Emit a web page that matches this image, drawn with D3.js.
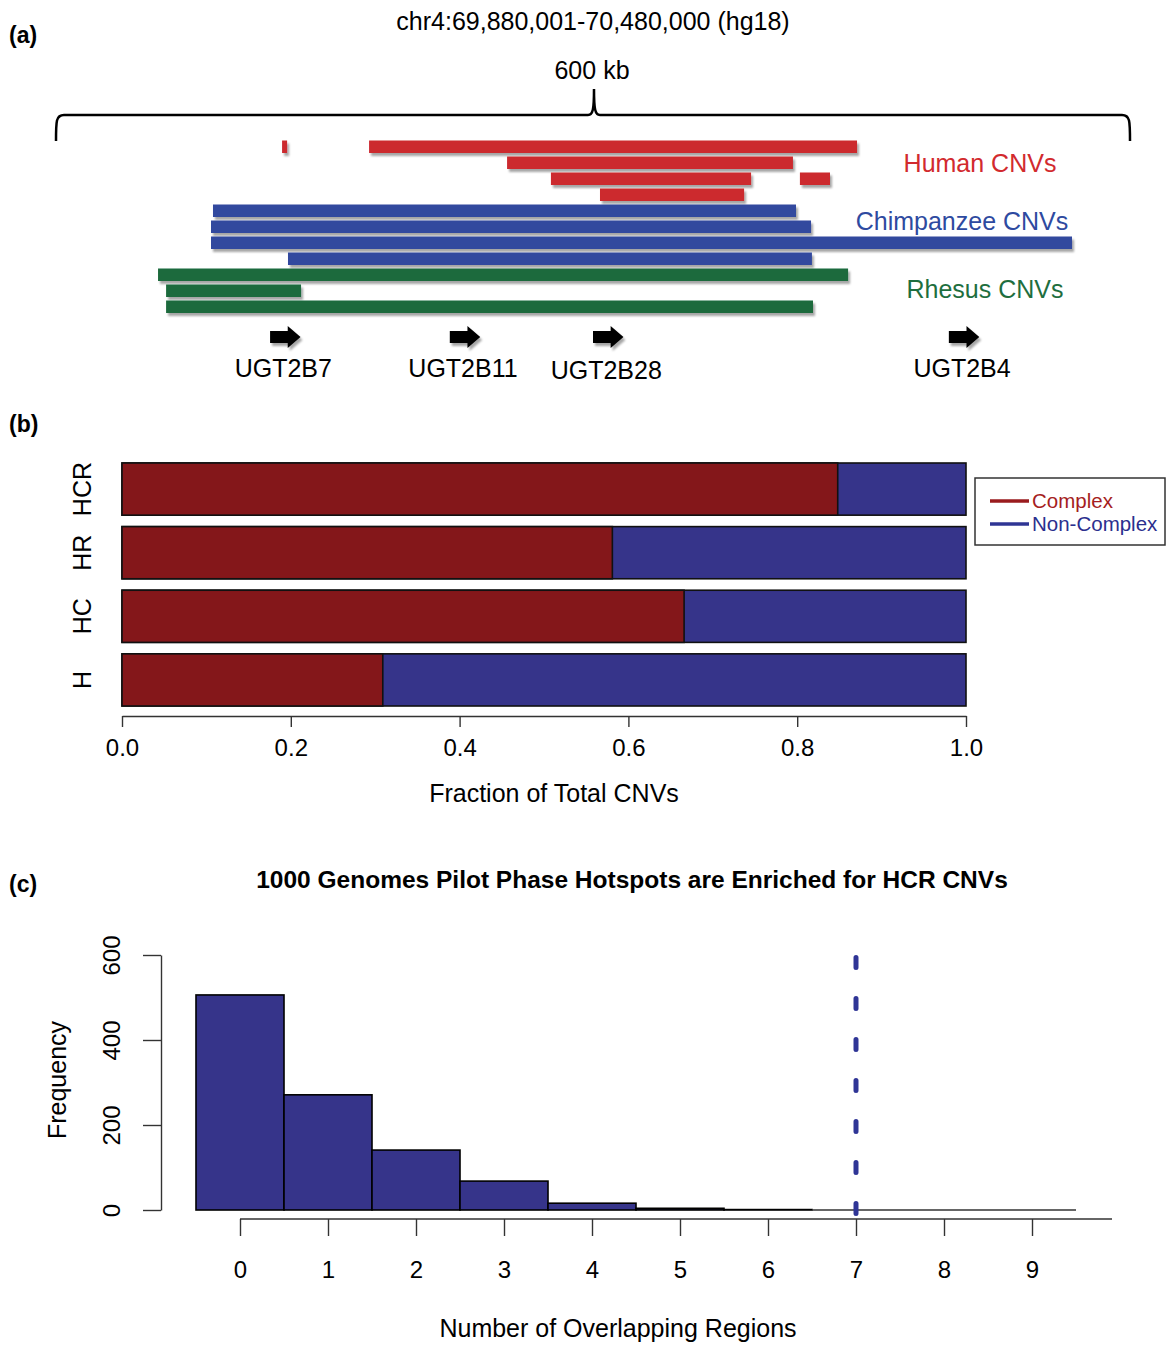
<!DOCTYPE html>
<html>
<head>
<meta charset="utf-8">
<script src="https://cdn.jsdelivr.net/npm/d3@7"></script>
<style>
  html, body { margin: 0; padding: 0; background: #fff; }
  svg { display: block; font-family: "Liberation Sans", Arial, sans-serif; }
</style>
</head>
<body>
<svg id="chart" width="1167" height="1345"></svg>
<script>
// ---------------- DATA ----------------
// Panel (a): region chr4:69,880,001-70,480,000 (hg18), positions in kb from region start
const regionLabel = "chr4:69,880,001-70,480,000 (hg18)";
const regionSpanKb = 600;
// each CNV: [start kb, end kb, lane]
const humanCNVs = [[126.3, 129.1, 0], [174.9, 447.5, 0], [252.0, 411.7, 1], [276.5, 388.3, 2], [415.6, 432.4, 2], [303.9, 384.4, 3]];
const chimpCNVs = [[87.7, 413.4, 4], [86.6, 421.8, 5], [86.6, 567.6, 6], [129.6, 422.3, 7]];
const rhesusCNVs = [[57.0, 442.5, 8], [61.5, 136.9, 9], [61.5, 422.9, 10]];
const geneNames = ["UGT2B7", "UGT2B11", "UGT2B28", "UGT2B4"];
const geneStartKb = [119.6, 220.0, 300.0, 498.8];
const geneLenKb = 17;

// Panel (b)
const groups = ["HCR", "HR", "HC", "H"];
const complexFrac = [0.848, 0.581, 0.666, 0.309];
const fracTicks = [0, 0.2, 0.4, 0.6, 0.8, 1.0];

// Panel (c)
const overlapBins = [0, 1, 2, 3, 4, 5, 6, 7, 8, 9];
const binCounts = [506, 271, 141, 68, 16, 4, 1, 0, 0, 0];
const freqTicks = [0, 200, 400, 600];
const observedOverlap = 7;

// ---------------- DRAW ----------------
const FS = 25;
const svg = d3.select("#chart");
const defs = svg.append("defs");
const sh = defs.append("filter").attr("id", "shadow").attr("x", "-5%").attr("y", "-50%").attr("width", "110%").attr("height", "250%");
sh.append("feDropShadow").attr("dx", 2).attr("dy", 3).attr("stdDeviation", 1.2).attr("flood-color", "#000").attr("flood-opacity", 0.35);

const RED = "#cc2a2f", BLUE = "#30489e", GREEN = "#1c6a3c";

// panel labels
[["(a)", 43], ["(b)", 432], ["(c)", 892]].forEach(([t, y]) => {
  svg.append("text").attr("x", 9).attr("y", y).attr("font-size", 23).attr("font-weight", "bold").text(t);
});

// ---- Panel (a)
const xA = d3.scaleLinear().domain([0, regionSpanKb]).range([56, 1130]);
const laneY = d3.scaleLinear().domain([0, 10]).range([140.5, 300.5]);
const laneH = 12.5;

svg.append("text").attr("x", 593).attr("y", 30).attr("text-anchor", "middle").attr("font-size", FS).text(regionLabel);
svg.append("text").attr("x", 592).attr("y", 79).attr("text-anchor", "middle").attr("font-size", FS).text(regionSpanKb + " kb");

// brace
const bx0 = xA(0), bx1 = xA(regionSpanKb), bmid = xA(regionSpanKb / 2) + 1, by = 115;
const brace = `M${bx0},${by + 26} C${bx0},${by + 6} ${bx0},${by} ${bx0 + 8},${by} L${bmid - 6},${by} C${bmid - 1},${by} ${bmid},${by - 6} ${bmid},${by - 26} C${bmid},${by - 6} ${bmid + 1},${by} ${bmid + 6},${by} L${bx1 - 8},${by} C${bx1},${by} ${bx1},${by + 6} ${bx1},${by + 26}`;
svg.append("path").attr("d", brace).attr("fill", "none").attr("stroke", "#000").attr("stroke-width", 2.5);

function drawCNVs(data, color) {
  svg.append("g").attr("filter", "url(#shadow)").selectAll("rect").data(data).join("rect")
    .attr("x", d => xA(d[0])).attr("width", d => xA(d[1]) - xA(d[0]))
    .attr("y", d => laneY(d[2])).attr("height", laneH).attr("fill", color);
}
drawCNVs(humanCNVs, RED);
drawCNVs(chimpCNVs, BLUE);
drawCNVs(rhesusCNVs, GREEN);

svg.append("text").attr("x", 980).attr("y", 172).attr("text-anchor", "middle").attr("font-size", FS).attr("fill", "#d22a2e").text("Human CNVs");
svg.append("text").attr("x", 962).attr("y", 230).attr("text-anchor", "middle").attr("font-size", FS).attr("fill", "#2e4aa0").text("Chimpanzee CNVs");
svg.append("text").attr("x", 985).attr("y", 298).attr("text-anchor", "middle").attr("font-size", FS).attr("fill", "#1e6e3e").text("Rhesus CNVs");

// genes
const genes = geneNames.map((n, i) => ({ name: n, start: geneStartKb[i] }));
const gG = svg.append("g");
gG.append("g").attr("filter", "url(#shadow)").selectAll("path").data(genes).join("path")
  .attr("d", d => {
    const x0 = xA(d.start), x1 = xA(d.start + geneLenKb), xm = x0 + (x1 - x0) * 0.58, cy = 337;
    return `M${x0},${cy - 6} L${xm},${cy - 6} L${xm},${cy - 11} L${x1},${cy} L${xm},${cy + 11} L${xm},${cy + 6} L${x0},${cy + 6} Z`;
  }).attr("fill", "#000");
gG.selectAll("text").data(genes).join("text")
  .attr("x", d => xA(d.start + geneLenKb / 2) - 2)
  .attr("y", (d, i) => i === 2 ? 379 : 377)
  .attr("text-anchor", "middle").attr("font-size", FS).text(d => d.name);

// ---- Panel (b)
const xB = d3.scaleLinear().domain([0, 1]).range([122, 966]);
const yB = d3.scaleBand().domain(groups).range([463, 706]).paddingInner(0.18).paddingOuter(0);
const COMPLEX = "#84171a", NONCOMPLEX = "#36348a";
const bData = groups.map((g, i) => ({ g, c: complexFrac[i] }));
const gB = svg.append("g");
gB.selectAll("rect.nc").data(bData).join("rect").attr("class", "nc")
  .attr("x", xB(0)).attr("width", xB(1) - xB(0)).attr("y", d => yB(d.g)).attr("height", yB.bandwidth())
  .attr("fill", NONCOMPLEX).attr("stroke", "#111").attr("stroke-width", 1.6);
gB.selectAll("rect.c").data(bData).join("rect").attr("class", "c")
  .attr("x", xB(0)).attr("width", d => xB(d.c) - xB(0)).attr("y", d => yB(d.g)).attr("height", yB.bandwidth())
  .attr("fill", COMPLEX).attr("stroke", "#111").attr("stroke-width", 1.6);
gB.selectAll("text.cat").data(groups).join("text").attr("class", "cat")
  .attr("transform", d => `translate(91,${yB(d) + yB.bandwidth() / 2}) rotate(-90)`)
  .attr("text-anchor", "middle").attr("font-size", FS).text(d => d);

const axB = svg.append("g").attr("transform", "translate(0,716)")
  .call(d3.axisBottom(xB).tickValues(fracTicks).tickFormat(d3.format(".1f")).tickSize(11).tickSizeOuter(0).tickPadding(12));
axB.selectAll("text").attr("font-size", 24).attr("font-family", "Liberation Sans, Arial, sans-serif").attr("fill", "#000");
axB.selectAll("line, path").attr("stroke", "#333").attr("stroke-width", 1.4);
svg.append("text").attr("x", 554).attr("y", 802).attr("text-anchor", "middle").attr("font-size", FS).text("Fraction of Total CNVs");

// legend
const lg = svg.append("g");
lg.append("rect").attr("x", 975).attr("y", 478).attr("width", 190).attr("height", 67).attr("fill", "#fff").attr("stroke", "#333").attr("stroke-width", 1.5);
[["Complex", "#a51d22", "#9a1b1e"], ["Non-Complex", "#2b2f8e", "#2f3594"]].forEach(([t, tc, lc], i) => {
  const y = 501 + i * 23;
  lg.append("line").attr("x1", 990).attr("x2", 1029).attr("y1", y).attr("y2", y).attr("stroke", lc).attr("stroke-width", 3.5);
  lg.append("text").attr("x", 1032).attr("y", y + 7).attr("font-size", 20.5).attr("fill", tc).text(t);
});

// ---- Panel (c)
svg.append("text").attr("x", 632).attr("y", 888).attr("text-anchor", "middle").attr("font-size", 24.5).attr("font-weight", "bold").text("1000 Genomes Pilot Phase Hotspots are Enriched for HCR CNVs");
const xC = d3.scaleLinear().domain([0, 9]).range([240, 1032]);
const yC = d3.scaleLinear().domain([0, 600]).range([1210, 955]);
const hData = overlapBins.map((b, i) => ({ b, n: binCounts[i] }));
const gC = svg.append("g");
gC.selectAll("rect").data(hData.filter(d => d.n > 0)).join("rect")
  .attr("x", d => xC(d.b - 0.5)).attr("width", d => xC(d.b + 0.5) - xC(d.b - 0.5))
  .attr("y", d => yC(d.n)).attr("height", d => yC(0) - yC(d.n))
  .attr("fill", "#36348a").attr("stroke", "#000").attr("stroke-width", 1.6);
gC.selectAll("line.zero").data(hData.filter(d => d.n === 0)).join("line").attr("class", "zero")
  .attr("x1", d => xC(d.b - 0.5)).attr("x2", d => xC(d.b + 0.5)).attr("y1", yC(0)).attr("y2", yC(0))
  .attr("stroke", "#333").attr("stroke-width", 1.4);

const axCy = svg.append("g").attr("transform", "translate(161,0)")
  .call(d3.axisLeft(yC).tickValues(freqTicks).tickSize(18).tickSizeOuter(0));
axCy.selectAll("line, path").attr("stroke", "#333").attr("stroke-width", 1.4);
axCy.selectAll("text").attr("x", null).attr("dy", null).attr("font-size", 24).attr("fill", "#000")
  .attr("font-family", "Liberation Sans, Arial, sans-serif")
  .attr("text-anchor", "middle").attr("transform", "translate(-41,0) rotate(-90)");
svg.append("text").attr("transform", "translate(66,1080) rotate(-90)").attr("text-anchor", "middle").attr("font-size", FS).text("Frequency");

const axCx = svg.append("g").attr("transform", "translate(0,1219)")
  .call(d3.axisBottom(xC).tickValues(overlapBins).tickFormat(d3.format("d")).tickSize(17).tickSizeOuter(0).tickPadding(25));
axCx.select("path.domain").remove();
axCx.append("line").attr("x1", xC(0)).attr("x2", 1112).attr("y1", 0).attr("y2", 0);
axCx.selectAll("line").attr("stroke", "#333").attr("stroke-width", 1.4);
axCx.selectAll("text").attr("font-size", 24).attr("fill", "#000").attr("font-family", "Liberation Sans, Arial, sans-serif");
svg.append("text").attr("x", 618).attr("y", 1337).attr("text-anchor", "middle").attr("font-size", FS).text("Number of Overlapping Regions");

svg.append("line").attr("x1", xC(observedOverlap)).attr("x2", xC(observedOverlap))
  .attr("y1", yC(600) + 2.5).attr("y2", 1214)
  .attr("stroke", "#2f3596").attr("stroke-width", 5).attr("stroke-linecap", "round").attr("stroke-dasharray", "10 31");
</script>
</body>
</html>
